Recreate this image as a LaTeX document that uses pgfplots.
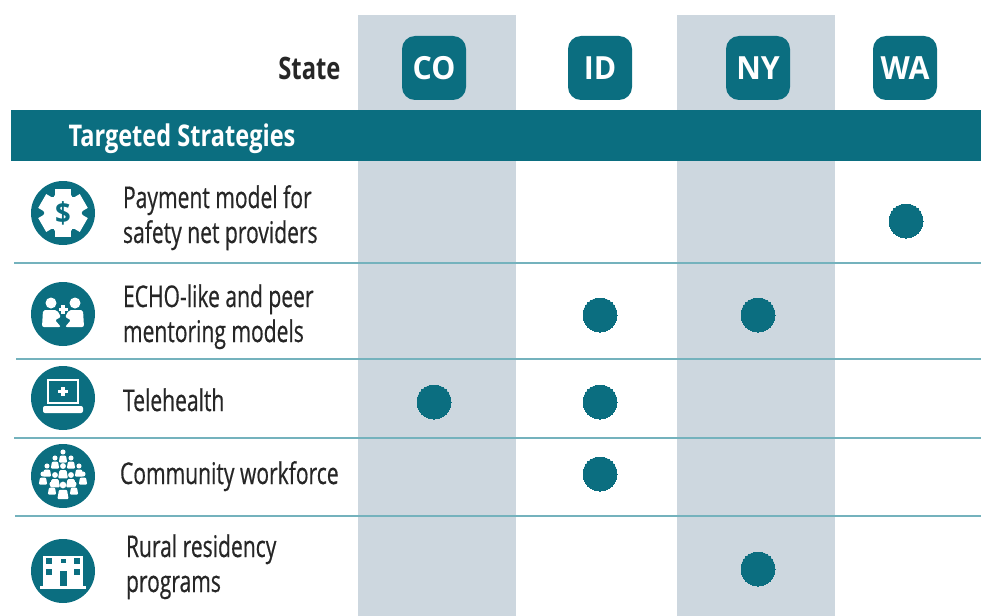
\documentclass[border=0pt]{standalone}
\usepackage{pgfplots}
\pgfplotsset{compat=1.18}
\usepackage{fontspec}
\setmainfont{Open Sans}[FakeStretch=0.705,FakeBold=0.5]
\newfontfamily\hdr{Open Sans}[FakeStretch=0.95,BoldFont={Open Sans Bold}]
\definecolor{teal0}{HTML}{0B6E80}
\definecolor{band}{HTML}{CDD7DF}
\definecolor{rule0}{HTML}{74B2BD}
\definecolor{txt}{HTML}{262626}
\newcommand{\fs}[1]{\fontsize{#1}{#1}\selectfont}
\tikzset{icon/.style={shift={(axis cs:#1)},x=1bp,y=-1bp}}
% little person, white, at offset
\newcommand{\person}[3]{%
  \fill[white] (#1,#2) circle ({#3*0.42});
  \fill[white,rounded corners=1bp] ({#1-#3*0.7},{#2+#3*1.75}) -- ({#1-#3*0.5},{#2+#3*0.6}) -- ({#1+#3*0.5},{#2+#3*0.6}) -- ({#1+#3*0.7},{#2+#3*1.75}) -- cycle;}
\begin{document}
\begin{tikzpicture}
\begin{axis}[
  scale only axis, width=981bp, height=616bp,
  xmin=0, xmax=981, ymin=0, ymax=616, y dir=reverse,
  axis lines=none, clip=true,
  every axis plot/.append style={forget plot},
]
% full-page bounding box
\pgfplotsextra{\path (axis cs:0,0) rectangle (axis cs:981,616);}
% column bands
\addplot[fill=band,draw=none] coordinates {(358,15)(516,15)(516,616)(358,616)} -- cycle;
\addplot[fill=band,draw=none] coordinates {(677,15)(835,15)(835,616)(677,616)} -- cycle;
% header bar
\addplot[fill=teal0,draw=none] coordinates {(11,110)(981,110)(981,161)(11,161)} -- cycle;
% row rules
\addplot[rule0,line width=1.7bp] coordinates {(14,263)(981,263)};
\addplot[rule0,line width=1.7bp] coordinates {(16,359)(981,359)};
\addplot[rule0,line width=1.7bp] coordinates {(14,438)(981,438)};
\addplot[rule0,line width=1.7bp] coordinates {(15,516)(981,516)};
% state badges
\pgfplotsextra{
\foreach \xc/\lab in {434/CO,600/ID,758/NY,905/WA}{
  \fill[teal0,rounded corners=13bp] (axis cs:\xc-32,36) rectangle (axis cs:\xc+32,100);
  \node[white,font=\hdr\bfseries\fs{32}] at (axis cs:\xc,68.5) {\lab};
}
\node[anchor=east,txt,font=\hdr\bfseries\fs{31}] at (axis cs:344,68.5) {\scalebox{0.81}[1]{State}};
\node[anchor=west,white,font=\hdr\bfseries\fs{30}] at (axis cs:65,138.5) {\scalebox{0.83}[1]{Targeted Strategies}};
% row labels
\node[anchor=base west,txt,font=\fs{30}] at (axis cs:119.5,208) {Payment model for};
\node[anchor=base west,txt,font=\fs{30}] at (axis cs:119.5,243) {safety net providers};
\node[anchor=base west,txt,font=\fs{30}] at (axis cs:119.5,307) {ECHO-like and peer};
\node[anchor=base west,txt,font=\fs{30}] at (axis cs:119.5,342) {mentoring models};
\node[anchor=base west,txt,font=\fs{30}] at (axis cs:119.5,411) {Telehealth};
\node[anchor=base west,txt,font=\fs{30}] at (axis cs:116.5,484) {Community workforce};
\node[anchor=base west,txt,font=\fs{30}] at (axis cs:122.5,557) {Rural residency};
\node[anchor=base west,txt,font=\fs{30}] at (axis cs:122.5,592) {programs};
}
% dots: strategy present in state
\addplot[only marks,mark=*,mark size=17bp,teal0,mark options={fill=teal0,draw=teal0,line width=0pt}]
  coordinates {(906,221)(600,315)(758,315)(434,402)(600,402)(600,474)(758,569)};
\pgfplotsextra{
\foreach \yc in {213,314,398,476,571}{\fill[teal0] (axis cs:63,\yc) circle (32bp);}
% icon: payment
\begin{scope}[icon={63,213}]
  \foreach \a in {0,60,120}{\fill[white,rotate=\a] (-8,-24) rectangle (8,24);}
  \foreach \a in {0,60,120}{\fill[white,rotate=\a] (-14,-16) rectangle (14,16);}
  \node[teal0,font=\hdr\bfseries\fs{29}] at (0,0) {\$};
\end{scope}
% icon: peers
\begin{scope}[icon={63,314}]
  \fill[white] (-12,-11) circle (5.5); \fill[white] (12,-11) circle (5.5);
  \fill[white,rounded corners=2bp] (-21,13) -- (-20,-4) -- (-6,-4) -- (-2,3) -- (-8,6) -- (-2,13) -- cycle;
  \fill[white,rounded corners=2bp] (21,13) -- (20,-4) -- (6,-4) -- (2,3) -- (8,6) -- (2,13) -- cycle;
  \fill[white] (-1.6,-9) rectangle (1.6,0); \fill[white] (-4.5,-6) rectangle (4.5,-3);
\end{scope}
% icon: laptop
\begin{scope}[icon={63,398}]
  \draw[white,line width=1.6bp] (-15,-18) rectangle (15,5);
  \fill[white] (-1.6,-11) rectangle (1.6,-2); \fill[white] (-5,-8) rectangle (5,-5);
  \fill[white,rounded corners=2bp] (-20,8) rectangle (20,15);
\end{scope}
% icon: community
\begin{scope}[icon={63,476}]
  \person{0}{-24}{6}\person{-8}{-18}{6}\person{8}{-18}{6}
  \person{-16}{-10}{6}\person{16}{-10}{6}\person{0}{-10}{7}
  \person{-20}{-2}{6}\person{20}{-2}{6}\person{-8}{-1}{7}\person{8}{-1}{7}
  \person{-11}{8}{6}\person{11}{8}{6}\person{0}{9}{8}
\end{scope}
% icon: building
\begin{scope}[icon={63,571}]
  \fill[white] (-20,-15) rectangle (20,15);
  \fill[white] (-23,15) rectangle (23,18);
  \foreach \x in {-14,14}\foreach \y in {-10,1}{\fill[teal0] (\x-3,\y-3) rectangle (\x+3,\y+3);}
  \fill[teal0] (-2.5,-12) rectangle (2.5,-8);
  \fill[teal0] (-3.5,0) rectangle (3.5,15);
\end{scope}
}
\end{axis}
\end{tikzpicture}
\end{document}
